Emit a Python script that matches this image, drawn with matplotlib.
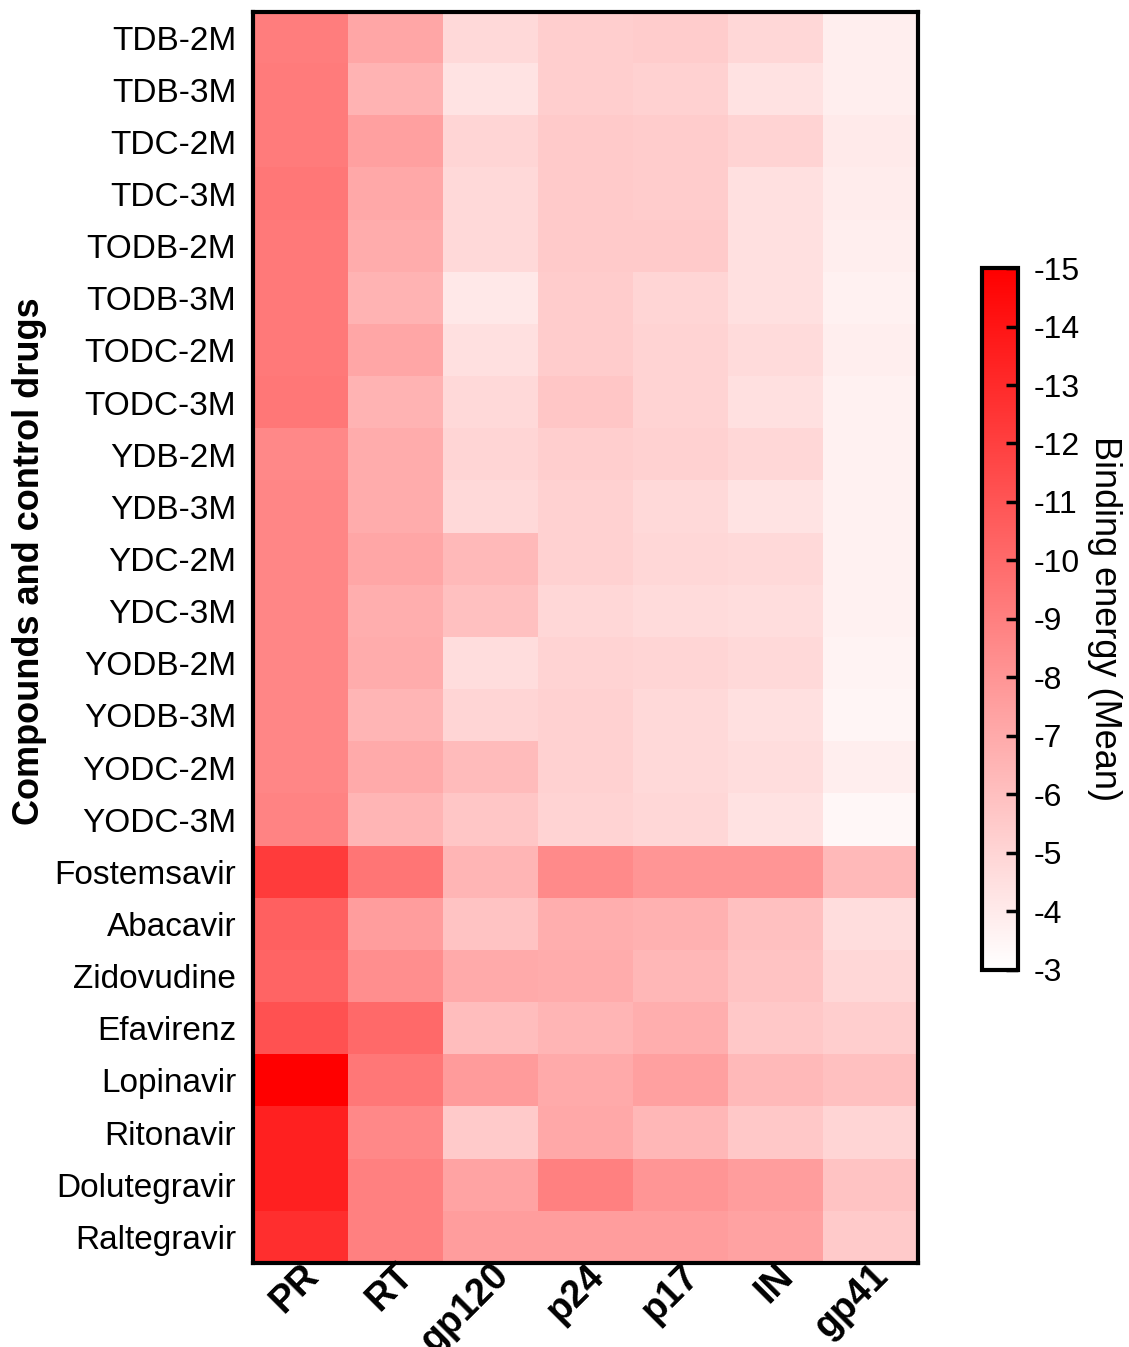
import matplotlib
matplotlib.use("Agg")
import matplotlib.pyplot as plt
import matplotlib.transforms as mtransforms
import numpy as np
from matplotlib.colors import LinearSegmentedColormap

matplotlib.rcParams['font.family'] = ['Liberation Sans', 'DejaVu Sans']
matplotlib.rcParams['font.size'] = 24
matplotlib.rcParams['axes.unicode_minus'] = False

# targets (columns) and compounds (rows)
targets = ["PR", "RT", "gp120", "p24", "p17", "IN", "gp41"]
compounds = ["TDB-2M", "TDB-3M", "TDC-2M", "TDC-3M", "TODB-2M", "TODB-3M",
             "TODC-2M", "TODC-3M", "YDB-2M", "YDB-3M", "YDC-2M", "YDC-3M",
             "YODB-2M", "YODB-3M", "YODC-2M", "YODC-3M", "Fostemsavir",
             "Abacavir", "Zidovudine", "Efavirenz", "Lopinavir", "Ritonavir",
             "Dolutegravir", "Raltegravir"]

# mean binding energy, one list per target column
pr    = [-9.1, -9.2, -9.2, -9.4, -9.3, -9.3, -9.3, -9.4, -8.6, -8.7, -8.7, -8.7,
         -8.7, -8.7, -8.7, -8.8, -12.2, -10.5, -10.3, -11.2, -15.0, -13.5, -13.5, -12.8]
rt    = [-7.2, -6.6, -7.5, -7.1, -6.9, -6.6, -7.2, -6.6, -6.9, -6.9, -7.2, -6.8,
         -6.9, -6.5, -7.0, -6.5, -9.5, -7.6, -8.3, -10.0, -9.4, -8.6, -9.0, -9.0]
gp120 = [-4.8, -4.3, -5.0, -4.8, -4.8, -4.1, -4.5, -4.8, -5.0, -4.8, -6.3, -6.0,
         -4.6, -5.0, -6.2, -5.7, -6.5, -5.8, -7.0, -6.1, -7.7, -5.5, -7.3, -7.6]
p24   = [-5.3, -5.3, -5.5, -5.5, -5.5, -5.4, -5.4, -5.7, -5.3, -5.2, -5.2, -4.9,
         -5.1, -5.2, -5.2, -5.1, -8.5, -6.8, -6.9, -6.5, -7.0, -7.1, -9.0, -7.6]
p17   = [-5.4, -5.2, -5.4, -5.4, -5.5, -5.0, -5.1, -5.1, -5.2, -4.8, -4.9, -4.7,
         -5.0, -4.8, -4.8, -4.9, -8.0, -6.7, -6.4, -6.8, -7.5, -6.4, -8.0, -7.6]
in_   = [-4.9, -4.4, -5.1, -4.5, -4.5, -4.5, -4.7, -4.5, -4.9, -4.3, -4.8, -4.6,
         -4.8, -4.5, -4.6, -4.4, -8.0, -6.0, -5.8, -5.6, -6.3, -5.6, -7.6, -7.4]
gp41  = [-3.8, -3.8, -4.0, -3.9, -3.8, -3.7, -3.8, -3.7, -3.7, -3.7, -3.7, -3.7,
         -3.6, -3.5, -3.8, -3.4, -6.3, -4.6, -4.9, -5.3, -6.0, -5.0, -5.8, -5.5]

cb_ticks = list(range(-15, -2))


def plot_heatmap():
    data = np.array([pr, rt, gp120, p24, p17, in_, gp41]).T

    fig = plt.figure(figsize=(11.29, 13.47), dpi=100)
    ax = fig.add_axes([0.224, 0.0624, 0.589, 0.929])

    # white at -3, pure red at -15
    cmap = LinearSegmentedColormap.from_list("wr", ["#ff0000", "#ffffff"])
    im = ax.imshow(data, cmap=cmap, vmin=-15, vmax=-3, aspect='auto',
                   interpolation='nearest')

    ax.set_xticks(range(len(targets)))
    ax.set_xticklabels(targets, rotation=45, ha='right', rotation_mode='anchor',
                       fontweight='bold', fontsize=27)
    # nudge the rotated labels a bit to the right
    shift = mtransforms.ScaledTranslation(4 / 100, 0, fig.dpi_scale_trans)
    for lbl in ax.get_xticklabels():
        lbl.set_transform(lbl.get_transform() + shift)
    ax.set_yticks(range(len(compounds)))
    ax.set_yticklabels(compounds)
    ax.tick_params(axis='y', length=0, pad=12)
    ax.tick_params(axis='x', length=0, pad=-4)
    for s in ax.spines.values():
        s.set_linewidth(3)

    ax.set_ylabel("Compounds and control drugs", fontweight='bold', fontsize=26)
    ax.yaxis.set_label_coords(-0.31, 0.561)

    """
    Colorbar
    """
    cax = fig.add_axes([0.870, 0.280, 0.032, 0.521])
    cb = fig.colorbar(im, cax=cax, ticks=cb_ticks)
    cb.outline.set_linewidth(3)
    cax.set_ylim(-3, -15)
    cax.tick_params(axis='y', direction='in', length=9, width=2.5, pad=11,
                    labelsize=23)
    cb.set_label("Binding energy (Mean)", rotation=-90, labelpad=30, fontsize=26)

    fig.savefig("out.png", dpi=100)
    plt.close(fig)


def main():
    plot_heatmap()


if __name__ == '__main__':
    main()
